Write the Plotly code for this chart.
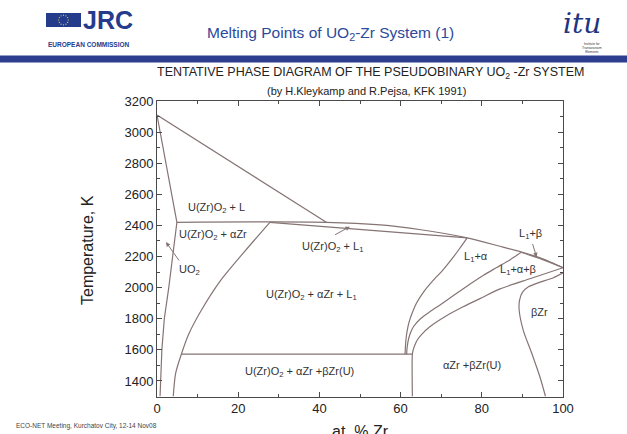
import math
import plotly.graph_objects as go

# ---------------- data (at.% Zr, Temperature K) ----------------
liq_uo2_x = [0, 41.7]
liq_uo2_T = [3110, 2420]

sol_uo2_x = [0, 4.9, 2.9, 1.8, 1.2, 0.9, 0.75]
sol_uo2_T = [3110, 2420, 2000, 1800, 1600, 1450, 1300]

mono_x = [4.9, 41.7, 55, 65, 76.4, 85, 89.8, 93.5, 97, 100]
mono_T = [2420, 2420, 2403, 2372, 2320, 2262, 2229, 2199, 2163, 2128]

l1_low_x = [27.8, 76.4]
l1_low_T = [2420, 2320]

azr_x = [27.8, 21.5, 15.5, 10.6, 7.8, 6.0, 4.6, 4.0]
azr_T = [2420, 2230, 2040, 1840, 1700, 1572, 1450, 1300]

eut_x = [6.0, 62.9]
eut_T = [1572, 1572]

curveA_x = [76.4, 74.5, 72.5, 70.3, 67.8, 65.6, 63.9, 62.9, 62.1, 61.6, 61.3, 61.15, 61.1]
curveA_T = [2320, 2250, 2180, 2110, 2040, 1970, 1900, 1840, 1780, 1720, 1660, 1600, 1572]

curveB_x = [89.8, 87.0, 83.7, 80.4, 77.5, 75.0, 72.5, 69.8, 67.2, 64.9, 63.2, 62.3, 61.8, 61.55, 61.5]
curveB_T = [2229, 2180, 2130, 2080, 2030, 1985, 1940, 1890, 1845, 1800, 1750, 1700, 1650, 1600, 1572]

curveC_x = [100, 92.2, 84.5, 80.0, 75.4, 71.0, 67.2, 65.2, 64.1, 63.5, 63.1, 62.9, 62.9]
curveC_T = [2128, 2060, 1992, 1935, 1877, 1815, 1749, 1700, 1663, 1630, 1600, 1572, 1300]

solb_x = [89.8, 95, 100]
solb_T = [2226, 2180, 2128]

bzr_x = [100, 97.5, 94.0, 91.5, 90.0, 89.3, 89.2, 90.2, 92.3, 94.3, 95.7]
bzr_T = [2095, 2062, 2032, 2005, 1970, 1920, 1856, 1727, 1578, 1427, 1300]

labels = ["U(Zr)O<sub>2</sub> + L", "U(Zr)O<sub>2</sub> + αZr", "UO<sub>2</sub>",
          "U(Zr)O<sub>2</sub> + L<sub>1</sub>", "U(Zr)O<sub>2</sub> + αZr + L<sub>1</sub>",
          "U(Zr)O<sub>2</sub> + αZr +βZr(U)", "αZr +βZr(U)", "βZr",
          "L<sub>1</sub>+α", "L<sub>1</sub>+α+β", "L<sub>1</sub>+β"]
label_x = [14.7, 13.9, 8.1, 43.3, 38.0, 35.2, 77.5, 94.3, 78.5, 89.0, 91.9]
label_T = [2510, 2338, 2112, 2262, 1955, 1455, 1502, 1845, 2199, 2113, 2345]

# arrows: tip (x, T) and tail (x, T)
arrow_tip_x = [2.2, 47.5, 93.5]
arrow_tip_T = [2293, 2392, 2196]
arrow_tail_x = [5.7, 43.5, 92.4]
arrow_tail_T = [2165, 2335, 2290]

x_ticks = [0, 20, 40, 60, 80, 100]
y_ticks = [1400, 1600, 1800, 2000, 2200, 2400, 2600, 2800, 3000, 3200]

# ---------------- figure ----------------
W, H = 627, 434
def px(x):
    return x / W
def py(y):
    return 1 - y / H

LINE = "#857473"
AX = "#4a4a4a"
BLUE = "#253c8c"
FONT = "Liberation Sans, Arial, sans-serif"

fig = go.Figure()

def add_line(xs, ys, shape="linear"):
    fig.add_trace(go.Scatter(x=xs, y=ys, mode="lines",
                             line=dict(color=LINE, width=1.2, shape=shape, smoothing=0.8),
                             hoverinfo="skip", showlegend=False))

add_line(liq_uo2_x, liq_uo2_T)
add_line(sol_uo2_x, sol_uo2_T)
add_line(mono_x, mono_T, "spline")
add_line(l1_low_x, l1_low_T)
add_line(azr_x, azr_T, "spline")
add_line(eut_x, eut_T)
add_line(curveA_x, curveA_T, "spline")
add_line(curveB_x, curveB_T, "spline")
add_line(curveC_x, curveC_T, "spline")
add_line(solb_x, solb_T, "spline")
add_line(bzr_x, bzr_T, "spline")

annotations = []
for t, x, y in zip(labels, label_x, label_T):
    annotations.append(dict(x=x, y=y, xref="x", yref="y", text=t, showarrow=False,
                            xanchor="center", yanchor="middle",
                            font=dict(family=FONT, size=11, color="#333333")))
for tx, ty, ax_, ay_ in zip(arrow_tip_x, arrow_tip_T, arrow_tail_x, arrow_tail_T):
    annotations.append(dict(x=tx, y=ty, xref="x", yref="y", ax=ax_, ay=ay_,
                            axref="x", ayref="y", text="", showarrow=True,
                            arrowhead=2, arrowsize=0.9, arrowwidth=1, arrowcolor=LINE))

def paper_text(x, y, text, size, color="#222222", family=FONT, **kw):
    d = dict(x=px(x), y=py(y), xref="paper", yref="paper", showarrow=False,
             xanchor="center", yanchor="middle", text=text,
             font=dict(family=family, size=size, color=color))
    d.update(kw)
    return d

annotations += [
    paper_text(330, 33, "Melting Points of UO<sub>2</sub>-Zr System (1)", 15.5, "#2b4a9c"),
    paper_text(108, 20, "<b>JRC</b>", 25, BLUE),
    paper_text(89, 45, "<b>EUROPEAN COMMISSION</b>", 6.5, BLUE),
    paper_text(582, 24, "<i>itu</i>", 28, "#1e3580", family="DejaVu Serif"),
    paper_text(592, 48, "Institute for<br>Transuranium<br>Elements", 3.2, "#333333"),
    paper_text(370, 72.5, "TENTATIVE PHASE DIAGRAM OF THE PSEUDOBINARY UO<sub>2</sub> -Zr SYSTEM", 12.5),
    paper_text(366, 91, "(by H.Kleykamp and R.Pejsa, KFK 1991)", 11),
    paper_text(88, 250, "Temperature, K", 16, textangle=-90),
    paper_text(360, 431, "at. % Zr", 16),
    paper_text(86, 426, "ECO-NET Meeting, Kurchatov City, 12-14 Nov08", 6.5, "#444444"),
]

shapes = [
    dict(type="rect", xref="paper", yref="paper", x0=0, x1=1, y0=py(62.5), y1=py(55.5),
         fillcolor="#2d3e8e", line=dict(width=0), layer="below"),
    dict(type="rect", xref="paper", yref="paper", x0=px(46), x1=px(81), y0=py(27), y1=py(13),
         fillcolor=BLUE, line=dict(width=0), layer="below"),
]
cx, cy, r = 63.5, 20, 4.8
for i in range(12):
    a = 2 * math.pi * i / 12
    sx, sy = cx + r * math.cos(a), cy + r * math.sin(a)
    shapes.append(dict(type="circle", xref="paper", yref="paper",
                       x0=px(sx - 0.6), x1=px(sx + 0.6), y0=py(sy + 0.6), y1=py(sy - 0.6),
                       fillcolor="#e8d44a", line=dict(width=0)))

axis_common = dict(showline=True, linecolor=AX, linewidth=1, mirror="ticks",
                   ticks="inside", ticklen=5, tickcolor=AX, tickwidth=1,
                   showgrid=False, zeroline=False, automargin=False,
                   tickfont=dict(family=FONT, size=13, color="#222222"))

fig.update_layout(
    width=W, height=H, autosize=False, margin=dict(l=0, r=0, t=0, b=0, pad=0),
    paper_bgcolor="white", plot_bgcolor="white",
    xaxis=dict(domain=[px(157), px(563)], range=[0, 100], tickvals=x_ticks,
               minor=dict(dtick=10, ticks="inside", ticklen=3, tickcolor=AX),
               **axis_common),
    yaxis=dict(domain=[py(396.5), py(101)], range=[1300, 3200], tickvals=y_ticks,
               minor=dict(dtick=100, ticks="inside", ticklen=3, tickcolor=AX),
               **axis_common),
    annotations=annotations, shapes=shapes, showlegend=False,
)

fig.write_html("out.html", config={"responsive": False, "displayModeBar": False},
               post_script="document.body.style.margin='0';document.body.style.overflow='hidden';")
